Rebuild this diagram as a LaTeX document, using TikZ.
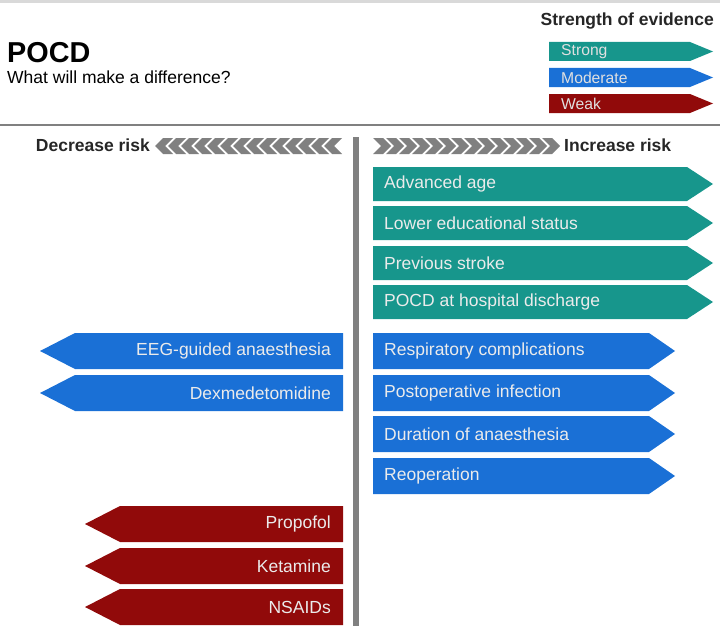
\documentclass[tikz,border=0pt]{standalone}
\usepackage{fontspec}
\setmainfont{Liberation Sans}
\begin{document}
\begin{tikzpicture}[x=1pt,y=-1pt,
  lab/.style={font=\fontsize{17.5}{20}\selectfont,text=white!92!black},
  bold/.style={font=\fontsize{17.5}{20}\selectfont\bfseries,text=black!85}]
\definecolor{strong}{RGB}{23,150,140}
\definecolor{moder}{RGB}{26,112,214}
\definecolor{weak}{RGB}{145,10,10}
\definecolor{grayc}{RGB}{128,128,128}
\useasboundingbox (0,0) rectangle (720,626);
\fill[gray!30] (0,0) rectangle (720,3);
\draw[grayc,line width=1.5] (0,125) -- (720,125);
\fill[grayc] (353,137) rectangle (359,626);
\node[anchor=west,font=\fontsize{28.8}{32}\selectfont\bfseries,inner sep=0pt] (title) at (7,53) {POCD};
\node[anchor=west,font=\fontsize{17.5}{20}\selectfont,inner sep=0pt] (sub) at (7,77) {What will make a difference?};
\node[bold,anchor=east,inner sep=0pt] (soe) at (714,21) {Strength of evidence};
\newcommand{\rarr}[6]{%
  \fill[#2] (373,#3-#6) -- (#4-26,#3-#6) -- (#4,#3) -- (#4-26,#3+#6) -- (373,#3+#6) -- cycle;
  \node[lab,anchor=west,inner sep=0pt] (#1) at (384,#3) {#5};}
\newcommand{\larr}[6]{%
  \fill[#2] (343,#3-#6) -- (#4+35,#3-#6) -- (#4,#3) -- (#4+35,#3+#6) -- (343,#3+#6) -- cycle;
  \node[lab,anchor=east,inner sep=0pt] (#1) at (331,#3) {#5};}
\foreach \c/\t/\y in {strong/Strong/51.5,moder/Moderate/77.5,weak/Weak/103.5}{
  \fill[\c] (549,\y-9.5) -- (690,\y-9.5) -- (713,\y) -- (690,\y+9.5) -- (549,\y+9.5) -- cycle;
  \node[font=\fontsize{15.7}{18}\selectfont,text=white!88!black,anchor=west,inner sep=0pt] at (561,\y) {\t};}
\foreach \i in {0,...,13}{
  \fill[grayc] (373+13*\i,138) -- (383+13*\i,138) -- (391+13*\i,146) -- (383+13*\i,154) -- (373+13*\i,154) -- (381+13*\i,146) -- cycle;
  \fill[grayc] (342-13*\i,138) -- (332-13*\i,138) -- (324-13*\i,146) -- (332-13*\i,154) -- (342-13*\i,154) -- (334-13*\i,146) -- cycle;}
\node[bold,anchor=west,inner sep=0pt] (inc) at (564,145) {Increase risk};
\node[bold,anchor=east,inner sep=0pt] (dec) at (150,145) {Decrease risk};
\rarr{a1}{strong}{184}{713}{Advanced age}{17}
\rarr{a2}{strong}{223}{713}{Lower educational status}{17}
\rarr{a3}{strong}{263}{713}{Previous stroke}{17}
\rarr{a4}{strong}{302}{713}{POCD at hospital discharge}{17}
\rarr{b1}{moder}{351}{675}{Respiratory complications}{18}
\rarr{b2}{moder}{393}{675}{Postoperative infection}{18}
\rarr{b3}{moder}{434}{675}{Duration of anaesthesia}{18}
\rarr{b4}{moder}{476}{675}{Reoperation}{18}
\larr{c1}{moder}{351}{40}{EEG-guided anaesthesia}{18}
\larr{c2}{moder}{393}{40}{Dexmedetomidine}{18}
\larr{d1}{weak}{524}{85}{Propofol}{18}
\larr{d2}{weak}{566}{85}{Ketamine}{18}
\larr{d3}{weak}{607}{85}{NSAIDs}{18}
\end{tikzpicture}
\end{document}
